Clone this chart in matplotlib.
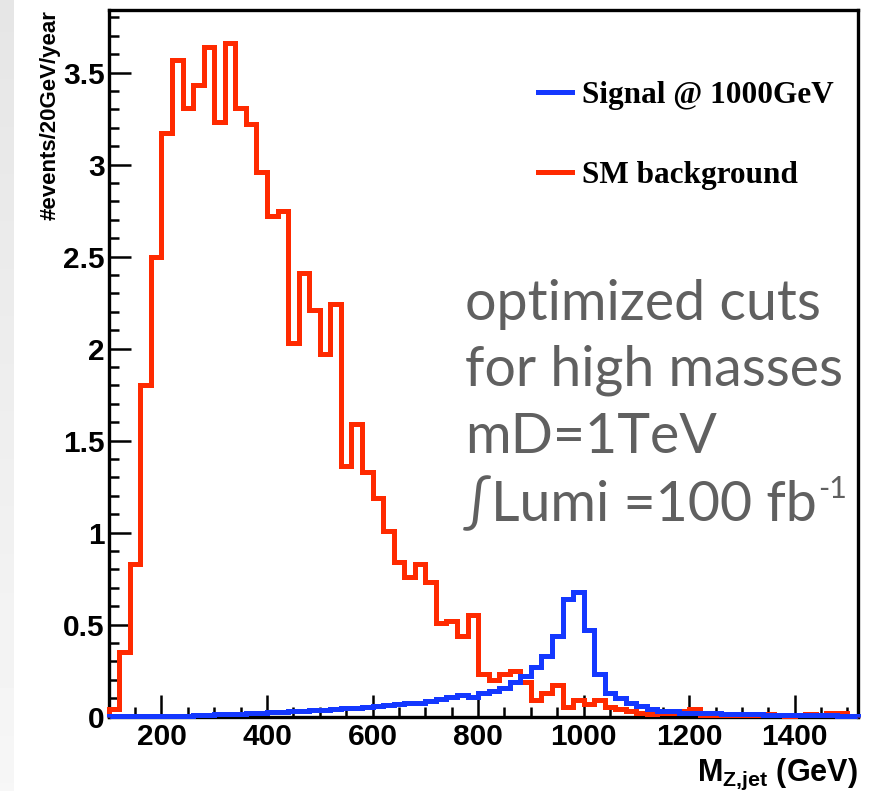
import numpy as np
import matplotlib
matplotlib.use("Agg")
import matplotlib.pyplot as plt
from matplotlib.ticker import MultipleLocator, FuncFormatter

plt.rcParams['mathtext.fontset'] = 'custom'
plt.rcParams['mathtext.bf'] = 'Liberation Sans:bold'
plt.rcParams['mathtext.rm'] = 'Liberation Sans:bold'
plt.rcParams['mathtext.it'] = 'Liberation Sans:bold'

# 20 GeV bins from 100 to 1520 GeV
bin_edges = np.arange(100, 1521, 20)

# SM background, events / 20 GeV / year
background = [
    0.04, 0.35, 0.83, 1.80, 2.50, 3.17, 3.57, 3.31, 3.43, 3.64,
    3.23, 3.66, 3.31, 3.22, 2.96, 2.72, 2.75, 2.03, 2.41, 2.21,
    1.97, 2.24, 1.36, 1.59, 1.33, 1.19, 1.01, 0.84, 0.76, 0.83,
    0.73, 0.51, 0.52, 0.44, 0.55, 0.23, 0.20, 0.23, 0.25, 0.19,
    0.09, 0.13, 0.17, 0.05, 0.09, 0.07, 0.09, 0.05, 0.04, 0.03,
    0.02, 0.015, 0.02, 0.02, 0.03, 0.04, 0.01, 0.01, 0.01, 0.01,
    0.01, 0.01, 0.015, 0.01, 0.005, 0.01, 0.015, 0.01, 0.02, 0.02,
    0.005,
]

# signal at 1000 GeV
signal = [
    0.002, 0.002, 0.003, 0.003, 0.004, 0.005, 0.005, 0.006, 0.008, 0.010,
    0.012, 0.014, 0.016, 0.018, 0.020, 0.024, 0.027, 0.030, 0.032, 0.034,
    0.038, 0.040, 0.045, 0.048, 0.050, 0.058, 0.062, 0.068, 0.072, 0.075,
    0.085, 0.095, 0.105, 0.120, 0.105, 0.130, 0.140, 0.155, 0.190, 0.220,
    0.270, 0.330, 0.440, 0.640, 0.680, 0.470, 0.230, 0.130, 0.100, 0.075,
    0.056, 0.040, 0.030, 0.030, 0.022, 0.020, 0.020, 0.018, 0.015, 0.013,
    0.012, 0.012, 0.010, 0.010, 0.010, 0.010, 0.008, 0.008, 0.007, 0.006,
    0.006,
]

labels = ["Signal @ 1000GeV", "SM background"]
red = '#ff2a00'
blue = '#1438ff'

W, H = 873, 791
fig = plt.figure(figsize=(W / 100, H / 100), dpi=100)

# light grey slide strip on the far left
strip = fig.add_axes([0, 0, 14 / W, 1])
strip.imshow(np.linspace(0.90, 0.965, 100)[:, None], cmap='gray', vmin=0, vmax=1,
             aspect='auto')
strip.axis('off')

ax = fig.add_axes([108.7 / W, 1 - 716.7 / H, (858 - 108.7) / W, (716.7 - 10) / H])

h_bkg = ax.stairs(background, bin_edges, color=red, lw=3.6, clip_on=False, zorder=3)
h_sig = ax.stairs(signal, bin_edges, color=blue, lw=3.6, clip_on=False, zorder=4)
for h in (h_bkg, h_sig):
    h.set_joinstyle('miter')

ax.set_xlim(100, 1520)
ax.set_ylim(0, 3.84)

ax.xaxis.set_major_locator(MultipleLocator(200))
ax.xaxis.set_minor_locator(MultipleLocator(50))
ax.yaxis.set_major_locator(MultipleLocator(0.5))
ax.yaxis.set_minor_locator(MultipleLocator(0.1))
ax.yaxis.set_major_formatter(FuncFormatter(lambda v, p: f"{v:g}"))

for s in ax.spines.values():
    s.set_linewidth(2.4)
ax.tick_params(which='both', direction='in', top=False, right=False, width=1.8)
ax.tick_params(which='major', length=15.5)
ax.tick_params(which='minor', length=7.5)
ax.tick_params(axis='x', pad=4.5)
ax.tick_params(axis='y', pad=3)
for lab in ax.get_xticklabels() + ax.get_yticklabels():
    lab.set_fontfamily('Liberation Sans')
    lab.set_fontweight('bold')
    lab.set_fontsize(21.5)

ax.set_ylabel('#events/20GeV/year', family='Liberation Sans', fontweight='bold',
              fontsize=16, ha='right')
ax.yaxis.set_label_coords(-0.064, 1.0)
ax.set_xlabel(r'$\mathbf{M_{Z{,}jet}}$ (GeV)', family='Liberation Sans',
              fontweight='bold', fontsize=22, ha='right', va='top')
ax.xaxis.set_label_coords(1.0, -0.057)

ax.legend([h_sig, h_bkg], labels, loc='upper left', bbox_to_anchor=(0.573, 0.899),
          frameon=False, prop={'family': 'Liberation Serif', 'weight': 'bold', 'size': 22.5},
          handlelength=1.1, handletextpad=0.3, labelspacing=1.62,
          borderpad=0, borderaxespad=0)

# annotation in slide font
note_font = dict(fontsize=40, color='#606060', family=['Lato', 'DejaVu Sans'],
                 va='baseline', ha='left')
fig.text(465 / W, 1 - 320 / H, 'optimized cuts', **note_font)
fig.text(465 / W, 1 - 386 / H, 'for high masses', **note_font)
fig.text(465 / W, 1 - 453 / H, 'mD=1TeV', **note_font)
lumi = fig.text(463 / W, 1 - 521 / H, '\u222bLumi =100 fb', **note_font)
fig.canvas.draw()
bb = lumi.get_window_extent()
fig.text(bb.x1 / W + 0.002, 1 - 498 / H, '-1', fontsize=22, color='#606060',
         family=['Lato', 'DejaVu Sans'], va='baseline', ha='left')

fig.savefig('out.png', dpi=100)
